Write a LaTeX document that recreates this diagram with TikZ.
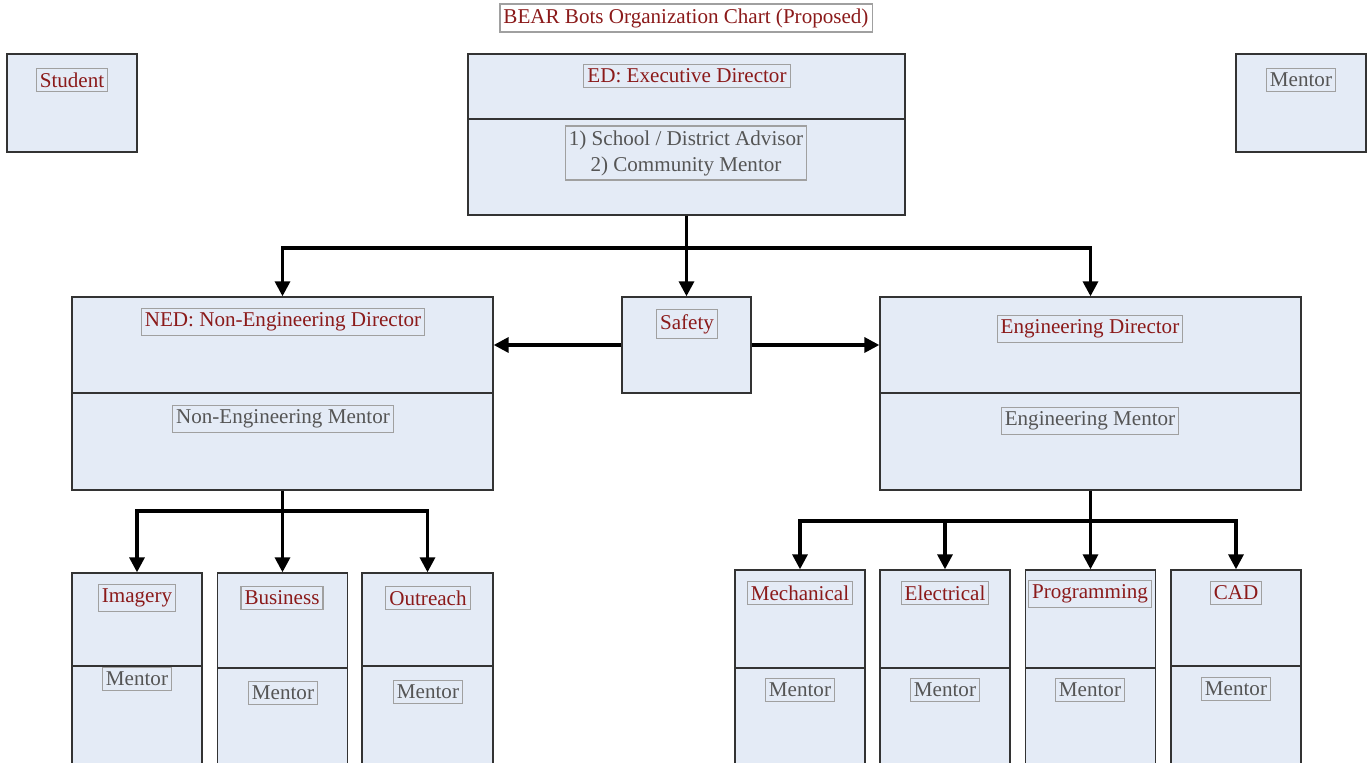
\documentclass[tikz,border=0pt]{standalone}
\usepackage{fontspec}
\setmainfont{Liberation Serif}
\usepackage{xcolor}
\usepackage{tikz}
\usetikzlibrary{arrows.meta,positioning,shapes}
\definecolor{boxfill}{HTML}{E4EBF6}
\definecolor{titlered}{HTML}{8B1A1A}
\definecolor{mentorgray}{HTML}{555555}
\definecolor{framegray}{HTML}{A0A0A0}

\begin{document}
\begin{tikzpicture}
[x=0.02cm, y=-0.02cm, font=\fontsize{12}{14.8}\selectfont,
box/.style={rectangle,draw=black!80,line width=0.8pt,fill=boxfill,inner sep=0pt},
lbl/.style={rectangle,draw=framegray,line width=0.6pt,fill=boxfill,inner xsep=2pt,inner ysep=2.5pt,text=titlered},
mlbl/.style={lbl,text=mentorgray},
arr/.style={line width=1.9pt,-{Triangle[length=8.5pt,width=8.5pt]}}];
\clip (0,0) rectangle (1367,763);

\node[lbl,fill=white] (title) at (686,18) {BEAR Bots Organization Chart (Proposed)};

\node[box,minimum width=2.6cm,minimum height=1.96cm] (student) at (72,103) {};
\node[lbl] (student-t) at (72,80) {Student};
\node[box,minimum width=2.6cm,minimum height=1.96cm] (mentor) at (1301,103) {};
\node[mlbl] (mentor-t) at (1301,80) {Mentor};

\node[box,minimum width=8.74cm,minimum height=3.22cm] (ed) at (686.5,134.5) {};
\draw[draw=black!80,line width=0.8pt] (468,119) -- (905,119);
\node[lbl] (ed-t) at (687,76) {ED: Executive Director};
\node[mlbl,align=center] (ed-m) at (686,153) {1) School / District Advisor\\2) Community Mentor};

\node[box,minimum width=2.58cm,minimum height=1.92cm] (safety) at (686.5,345) {};
\node[lbl] (safety-t) at (687,324) {Safety};

\node[box,minimum width=8.42cm,minimum height=3.86cm] (ned) at (282.5,393.5) {};
\draw[draw=black!80,line width=0.8pt] (72,393) -- (493,393);
\node[lbl] (ned-t) at (283,322) {NED: Non-Engineering Director};
\node[mlbl] (ned-m) at (283,419) {Non-Engineering Mentor};

\node[box,minimum width=8.42cm,minimum height=3.86cm] (eng) at (1090.5,393.5) {};
\draw[draw=black!80,line width=0.8pt] (880,393) -- (1301,393);
\node[lbl] (eng-t) at (1090,329) {Engineering Director};
\node[mlbl] (eng-m) at (1090,421) {Engineering Mentor};

\node[box,minimum width=2.6cm,minimum height=4.54cm] (imagery) at (137,686.5) {};
\draw[draw=black!80,line width=0.8pt] (72,666) -- (202,666);
\node[lbl] (imagery-t) at (137,598) {Imagery};
\node[mlbl] (imagery-m) at (137,679) {Mentor};

\node[box,minimum width=2.6cm,minimum height=4.54cm] (business) at (282.5,686.5) {};
\draw[draw=black!80,line width=0.8pt] (217,668) -- (347,668);
\node[lbl] (business-t) at (282,598) {Business};
\node[mlbl] (business-m) at (283,693) {Mentor};

\node[box,minimum width=2.62cm,minimum height=4.54cm] (outreach) at (427.5,686.5) {};
\draw[draw=black!80,line width=0.8pt] (362,666) -- (493,666);
\node[lbl] (outreach-t) at (428,598) {Outreach};
\node[mlbl] (outreach-m) at (428,692) {Mentor};

\node[box,minimum width=2.6cm,minimum height=4.6cm] (mech) at (800,685) {};
\draw[draw=black!80,line width=0.8pt] (735,668) -- (865,668);
\node[lbl] (mech-t) at (800,593) {Mechanical};
\node[mlbl] (mech-m) at (800,690) {Mentor};

\node[box,minimum width=2.6cm,minimum height=4.6cm] (elec) at (945,685) {};
\draw[draw=black!80,line width=0.8pt] (880,668) -- (1010,668);
\node[lbl] (elec-t) at (945,593) {Electrical};
\node[mlbl] (elec-m) at (945,690) {Mentor};

\node[box,minimum width=2.6cm,minimum height=4.6cm] (prog) at (1090.5,685) {};
\draw[draw=black!80,line width=0.8pt] (1026,668) -- (1156,668);
\node[lbl] (prog-t) at (1090,594) {Programming};
\node[mlbl] (prog-m) at (1090,690) {Mentor};

\node[box,minimum width=2.6cm,minimum height=4.6cm] (cad) at (1236,685) {};
\draw[draw=black!80,line width=0.8pt] (1171,666) -- (1301,666);
\node[lbl] (cad-t) at (1236,593) {CAD};
\node[mlbl] (cad-m) at (1236,689) {Mentor};

\coordinate (edbus) at (687,248);
\draw[arr] (ed.south) -- (safety.north);
\draw[arr] (edbus) -| (ned.north);
\draw[arr] (edbus) -| (eng.north);
\draw[arr] (safety.west) -- (safety.west -| ned.east);
\draw[arr] (safety.east) -- (safety.east -| eng.west);

\coordinate (nedbus) at (283,511);
\draw[arr] (ned.south) -- (business.north);
\draw[arr] (nedbus) -| (imagery.north);
\draw[arr] (nedbus) -| (outreach.north);

\coordinate (engbus) at (1090,521);
\draw[arr] (eng.south) -- (prog.north);
\draw[arr] (engbus) -| (mech.north);
\draw[arr] (engbus) -| (elec.north);
\draw[arr] (engbus) -| (cad.north);
\end{tikzpicture}
\end{document}
